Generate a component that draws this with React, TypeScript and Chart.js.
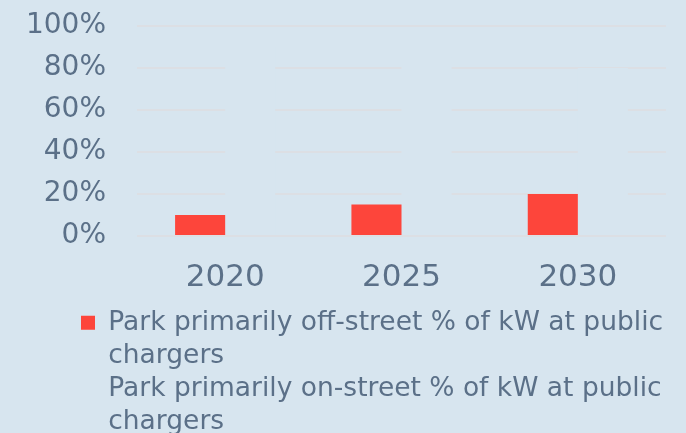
import React, { useEffect, useRef } from "react";
import { Chart, registerables } from "chart.js";

Chart.register(...registerables);

const categories = ["2020", "2025", "2030"];
const offStreetValues = [10, 15, 20];
const onStreetValues = [90, 85, 80];
const offStreetLabelLines = ["Park primarily off-street % of kW at public", "chargers"];
const onStreetLabelLines = ["Park primarily on-street % of kW at public", "chargers"];
const yTickMax = 100;
const yTickStep = 20;

const BG = "#d7e5ef";
const RED = "#fd453b";
const TEXT = "#5b7088";
const GRID = "#dcdfe4";
const FONT = "'DejaVu Sans', sans-serif";

const W = 686;
const H = 433;

const legendShift = {
  id: "legendShift",
  afterLayout(chart: any) {
    if (chart.legend) {
      chart.legend.left = 74.5;
    }
  },
};

export default function App() {
  const ref = useRef<HTMLCanvasElement | null>(null);

  useEffect(() => {
    document.body.style.margin = "0";
    const canvas = ref.current;
    if (!canvas) return;
    const labelLines = [offStreetLabelLines, onStreetLabelLines];
    const chart = new Chart(canvas, {
      type: "bar",
      data: {
        labels: categories,
        datasets: [
          {
            label: offStreetLabelLines.join(" "),
            data: offStreetValues,
            backgroundColor: RED,
            borderWidth: 0,
            categoryPercentage: 0.568,
            barPercentage: 1,
          },
          {
            label: onStreetLabelLines.join(" "),
            data: onStreetValues,
            backgroundColor: BG,
            borderWidth: 0,
            categoryPercentage: 0.568,
            barPercentage: 1,
          },
        ],
      },
      plugins: [legendShift],
      options: {
        responsive: false,
        animation: false,
        layout: { padding: { left: 0, right: 20, top: 26, bottom: -12 } },
        plugins: {
          tooltip: { enabled: false },
          legend: {
            position: "bottom",
            align: "start",
            labels: {
              font: { family: FONT, size: 26.5 },
              color: TEXT,
              boxWidth: 14,
              boxHeight: 14,
              padding: 6.5,
              generateLabels: (c: any) => {
                const items: any[] = [];
                c.data.datasets.forEach((ds: any, di: number) => {
                  labelLines[di].forEach((line: string, li: number) => {
                    items.push({
                      text: line,
                      fillStyle: li === 0 ? ds.backgroundColor : "rgba(0,0,0,0)",
                      strokeStyle: "rgba(0,0,0,0)",
                      lineWidth: 0,
                      hidden: false,
                      datasetIndex: di,
                      fontColor: TEXT,
                    });
                  });
                });
                return items;
              },
            },
          },
        },
        scales: {
          x: {
            grid: { display: false, drawTicks: false },
            border: { display: false },
            ticks: {
              font: { family: FONT, size: 31 },
              color: TEXT,
              padding: 23,
            },
            afterFit: (s: any) => {
              s.height = 67;
            },
          },
          y: {
            min: 0,
            max: yTickMax,
            grid: {
              color: GRID,
              lineWidth: 2,
              drawTicks: true,
              tickLength: 31,
              tickColor: "rgba(0,0,0,0)",
            },
            border: { display: false },
            ticks: {
              stepSize: yTickStep,
              font: { family: FONT, size: 28 },
              color: TEXT,
              padding: 0,
              callback: (v: any) => v + "%",
            },
            afterFit: (s: any) => {
              s.width = 137;
            },
          },
        },
      },
    });
    return () => chart.destroy();
  }, []);

  return (
    <div style={{ position: "fixed", left: 0, top: 0, width: W, height: H, background: BG }}>
      <canvas ref={ref} width={W} height={H} style={{ display: "block" }} />
    </div>
  );
}
